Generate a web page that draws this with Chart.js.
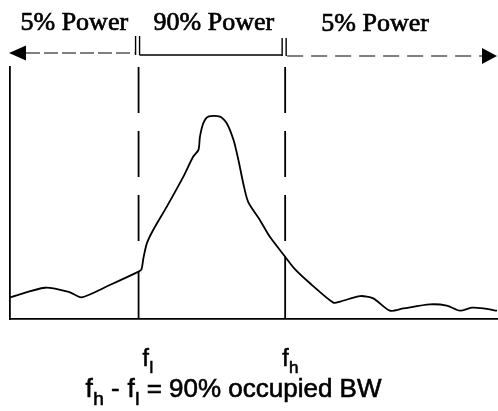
<!DOCTYPE html>
<html>
<head>
<meta charset="utf-8">
<script src="https://cdn.jsdelivr.net/npm/chart.js@4.4.1/dist/chart.umd.min.js"></script>
<style>
  html, body { margin: 0; padding: 0; background: #fff; }
  #spectrum { display: block; }
</style>
</head>
<body>
<canvas id="spectrum" width="498" height="411"></canvas>
<script>
// Relative frequency (0..100) and power (0..100) of the measured spectrum
const freq = [0, 7.2, 12.3, 14.7, 20.5, 26.4, 27.0, 27.4, 28.1, 29.4, 32.2, 35.6, 37.6, 38.7, 39.0, 39.7, 40.7, 43.1, 44.5, 45.9, 46.9, 47.9, 48.9, 51.3, 53.4, 56.5, 58.5, 61.6, 66.4, 67.8, 71.9, 74.6, 78.0, 80.8, 86.2, 89.7, 92.4, 94.8, 97.2, 100];
const power = [8.6, 12.4, 10.6, 8.6, 13.5, 18.8, 19.7, 24.2, 30.0, 35.3, 44.6, 56.5, 64.4, 67.1, 72.3, 77.7, 80.3, 80.3, 77.7, 71.0, 63.1, 53.8, 46.5, 39.3, 32.5, 24.7, 19.8, 14.2, 6.5, 6.9, 9.1, 8.2, 3.3, 4.2, 5.8, 5.3, 3.3, 4.5, 4.2, 3.3];

// band edges f_l and f_h
const edgeFreqs = [26.4, 56.5];
const edgeSubs = ['l', 'h'];
const bandLabels = ['5% Power', '90% Power', '5% Power'];
const caption = ['f', 'h', ' - ', 'f', 'l', ' = 90% occupied BW'];

const INK = '#000';
const SANS = '"Liberation Sans", Arial, sans-serif';

function powerAt(f) {
  return power[freq.indexOf(f)];
}

function isSub(parts, i) {
  return (parts[i] === 'l' || parts[i] === 'h') && i > 0 && parts[i - 1] === 'f';
}

// fills text and traces it once more so the strokes come out heavier
function heavyText(ctx, s, x, y, weight) {
  ctx.fillText(s, x, y);
  ctx.lineWidth = weight;
  ctx.strokeText(s, x, y);
}

// writes a run of text where an "l"/"h" after "f" is set as subscript
function drawSubscripted(ctx, parts, x, y, size, measureOnly) {
  let cx = x;
  parts.forEach((p, i) => {
    const sub = isSub(parts, i);
    ctx.font = (sub ? Math.round(size * 0.72) : size) + 'px ' + SANS;
    if (!measureOnly) heavyText(ctx, p, cx, sub ? y + size * 0.3 : y, 0.6);
    cx += ctx.measureText(p).width + (sub ? 0 : 0.5);
  });
  return cx - x;
}

const bandMarkup = {
  id: 'bandMarkup',
  afterDraw(chart) {
    const ctx = chart.ctx;
    const xs = chart.scales.x, ys = chart.scales.y;
    const area = chart.chartArea;
    const xl = xs.getPixelForValue(edgeFreqs[0]);
    const xh = xs.getPixelForValue(edgeFreqs[1]);

    ctx.save();
    ctx.strokeStyle = INK;
    ctx.fillStyle = INK;

    // edge lines: dashed above the curve, solid beneath it
    [xl, xh].forEach((x, i) => {
      const cy = ys.getPixelForValue(powerAt(edgeFreqs[i]));
      ctx.lineWidth = 1.8;
      ctx.setLineDash([46, 18]);
      ctx.beginPath();
      ctx.moveTo(x, area.top);
      ctx.lineTo(x, cy - 14);
      ctx.stroke();
      ctx.setLineDash([]);
      ctx.beginPath();
      ctx.moveTo(x, cy);
      ctx.lineTo(x, area.bottom);
      ctx.stroke();
    });

    // top range arrows
    ctx.lineWidth = 1.2;
    ctx.setLineDash([14, 4]);
    ctx.beginPath();
    ctx.moveTo(area.left + 16, 53);
    ctx.lineTo(xl - 4, 53);
    ctx.stroke();
    ctx.setLineDash([16, 8]);
    ctx.beginPath();
    ctx.moveTo(xh + 2, 56);
    ctx.lineTo(area.right - 14, 56);
    ctx.stroke();
    ctx.setLineDash([]);
    ctx.lineWidth = 1.4;
    ctx.beginPath();
    ctx.moveTo(xl + 1, 55);
    ctx.lineTo(xh - 3, 55);
    ctx.stroke();

    // double ticks at each edge
    ctx.lineWidth = 1.4;
    [[xl - 3, 36, 55], [xl + 1, 36, 55], [xh - 3, 38, 56], [xh + 1, 38, 56]].forEach(([x, y0, y1]) => {
      ctx.beginPath();
      ctx.moveTo(x, y0);
      ctx.lineTo(x, y1);
      ctx.stroke();
    });

    // arrow heads
    ctx.beginPath();
    ctx.moveTo(area.left - 1, 53);
    ctx.lineTo(area.left + 16, 45.5);
    ctx.lineTo(area.left + 16, 60.5);
    ctx.closePath();
    ctx.fill();
    ctx.beginPath();
    ctx.moveTo(area.right, 56);
    ctx.lineTo(area.right - 15, 48);
    ctx.lineTo(area.right - 15, 64);
    ctx.closePath();
    ctx.fill();

    // band labels
    ctx.font = '26px "Liberation Serif", "Times New Roman", serif';
    ctx.textAlign = 'center';
    ctx.textBaseline = 'alphabetic';
    heavyText(ctx, bandLabels[0], (area.left + xl) / 2, 30, 0.7);
    heavyText(ctx, bandLabels[1], (xl + xh) / 2 + 2, 30, 0.7);
    heavyText(ctx, bandLabels[2], xh + 90, 31, 0.7);

    // edge frequency labels
    ctx.textAlign = 'left';
    drawSubscripted(ctx, ['f', edgeSubs[0]], xl + 4, 366, 23);
    drawSubscripted(ctx, ['f', edgeSubs[1]], xh - 3, 366, 23);

    // caption under the axis, right-aligned to the BW end
    const size = 26;
    const w = drawSubscripted(ctx, caption, 0, 0, size, true);
    drawSubscripted(ctx, caption, 382 - w, 397, size);

    ctx.restore();
  }
};

new Chart(document.getElementById('spectrum'), {
  type: 'line',
  data: {
    datasets: [{
      data: freq.map((f, i) => ({ x: f, y: power[i] })),
      borderColor: INK,
      borderWidth: 1.8,
      pointRadius: 0,
      tension: 0.25,
      fill: false
    }]
  },
  options: {
    responsive: false,
    animation: false,
    devicePixelRatio: 1,
    layout: { padding: { left: 10, top: 67, right: 1, bottom: 92 } },
    plugins: { legend: { display: false }, tooltip: { enabled: false } },
    scales: {
      x: {
        type: 'linear', min: 0, max: 100,
        grid: { display: false, drawTicks: false },
        ticks: { display: false },
        border: { display: true, color: INK, width: 1.8 }
      },
      y: {
        min: 0, max: 100,
        grid: { display: false, drawTicks: false },
        ticks: { display: false },
        border: { display: true, color: INK, width: 1.8 }
      }
    }
  },
  plugins: [bandMarkup]
});
</script>
</body>
</html>
